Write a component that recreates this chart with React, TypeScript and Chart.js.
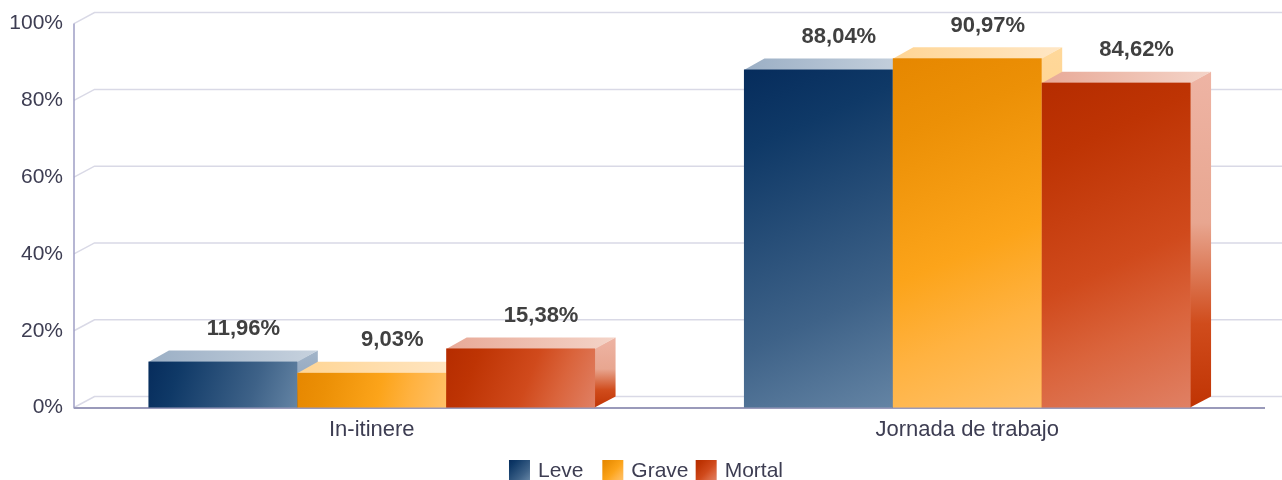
import { useEffect, useRef } from 'react';
import { Chart, registerables } from 'chart.js';

Chart.register(...registerables);

const categories = ['In-itinere', 'Jornada de trabajo'];
const seriesNames = ['Leve', 'Grave', 'Mortal'];
const leveValues = [11.96, 88.04];
const graveValues = [9.03, 90.97];
const mortalValues = [15.38, 84.62];
const yTickValues = [0, 20, 40, 60, 80, 100];

const DX = 20.5;
const DY = -11;
const FONT = '"Liberation Sans", Arial, Helvetica, sans-serif';
const TEXT_COLOR = '#3d3d52';
const LABEL_COLOR = '#404040';

type Stops = [number, string][];
interface Palette {
  front: Stops;
  top: [string, string];
  side: Stops;
}

const palettes: Palette[] = [
  {
    front: [[0, '#062c5c'], [0.2, '#0f3967'], [0.7, '#3e6288'], [1, '#6484a4']],
    top: ['#9bafc5', '#c7d2de'],
    side: [[0, '#a3b5c9'], [0.4, '#97abc2'], [0.75, '#3e6288'], [1, '#1a4070']],
  },
  {
    front: [[0, '#e68700'], [0.2, '#ec9006'], [0.55, '#fca41a'], [0.75, '#ffb240'], [1, '#ffc168']],
    top: ['#ffd594', '#ffe7c6'],
    side: [[0, '#ffd89a'], [0.4, '#ffd18a'], [0.75, '#f59a10'], [1, '#e88a00']],
  },
  {
    front: [[0, '#b52c00'], [0.2, '#be3404'], [0.55, '#d04a1c'], [0.75, '#da643c'], [1, '#e08064']],
    top: ['#e8a997', '#f4d4c8'],
    side: [[0, '#eeb4a4'], [0.45, '#e8a690'], [0.75, '#d04c1c'], [1, '#c03404']],
  },
];

function fmt(v: number) {
  return v.toFixed(2).replace('.', ',') + '%';
}

function addStops(g: CanvasGradient, stops: Stops) {
  stops.forEach(([o, c]) => g.addColorStop(o, c));
  return g;
}

const threeDPlugin = {
  id: 'threeD',
  beforeDatasetsDraw(chart: any) {
    const { ctx, chartArea } = chart;
    const yScale = chart.scales.y;
    const W = chart.width;
    ctx.save();
    ctx.lineWidth = 1.5;
    ctx.strokeStyle = '#d9d9e6';
    yTickValues.forEach((v) => {
      const y = yScale.getPixelForValue(v);
      ctx.beginPath();
      ctx.moveTo(chartArea.left, y);
      ctx.lineTo(chartArea.left + DX, y + DY);
      ctx.lineTo(W, y + DY);
      ctx.stroke();
    });
    // front y axis
    ctx.strokeStyle = '#9e9ec4';
    ctx.lineWidth = 1.5;
    ctx.beginPath();
    ctx.moveTo(chartArea.left, yScale.getPixelForValue(100));
    ctx.lineTo(chartArea.left, chartArea.bottom + 1);
    ctx.stroke();
    // front x axis
    ctx.strokeStyle = '#9a9aba';
    ctx.lineWidth = 2;
    ctx.beginPath();
    ctx.moveTo(chartArea.left, chartArea.bottom + 0.5);
    ctx.lineTo(chartArea.right, chartArea.bottom + 0.5);
    ctx.stroke();
    ctx.restore();
  },
  afterDatasetsDraw(chart: any) {
    const { ctx } = chart;
    const nCat = categories.length;
    const nSer = chart.data.datasets.length;
    ctx.save();
    for (let c = 0; c < nCat; c++) {
      for (let s = 0; s < nSer; s++) {
        const meta = chart.getDatasetMeta(s);
        const el = meta.data[c];
        if (!el) continue;
        const p = el.getProps(['x', 'y', 'base', 'width'], true);
        const l = p.x - p.width / 2;
        const r = p.x + p.width / 2;
        const t = p.y;
        const b = p.base;
        const pal = palettes[s];
        // side face
        const sg = ctx.createLinearGradient(0, t + DY, 0, b);
        addStops(sg, pal.side);
        ctx.fillStyle = sg;
        ctx.beginPath();
        ctx.moveTo(r - 0.5, t);
        ctx.lineTo(r + DX, t + DY);
        ctx.lineTo(r + DX, b + DY);
        ctx.lineTo(r - 0.5, b);
        ctx.closePath();
        ctx.fill();
        // top face
        const tg = ctx.createLinearGradient(l, 0, r + DX, 0);
        tg.addColorStop(0, pal.top[0]);
        tg.addColorStop(1, pal.top[1]);
        ctx.fillStyle = tg;
        ctx.beginPath();
        ctx.moveTo(l, t + 0.5);
        ctx.lineTo(l + DX, t + DY);
        ctx.lineTo(r + DX, t + DY);
        ctx.lineTo(r, t + 0.5);
        ctx.closePath();
        ctx.fill();
        // front face
        const fg = ctx.createLinearGradient(l, t, r, b);
        addStops(fg, pal.front);
        ctx.fillStyle = fg;
        ctx.fillRect(l, t, r - l, b - t);
      }
    }
    // value labels
    ctx.fillStyle = LABEL_COLOR;
    ctx.font = 'bold 22px ' + FONT;
    ctx.textAlign = 'center';
    ctx.textBaseline = 'middle';
    for (let s = 0; s < nSer; s++) {
      const meta = chart.getDatasetMeta(s);
      const vals = chart.data.datasets[s].data as number[];
      meta.data.forEach((el: any, i: number) => {
        const p = el.getProps(['x', 'y'], true);
        ctx.fillText(fmt(vals[i]), p.x + DX, p.y + DY - 21.5);
      });
    }
    ctx.restore();
  },
  afterDraw(chart: any) {
    // legend
    const { ctx } = chart;
    ctx.save();
    ctx.font = '21px ' + FONT;
    const boxW = 21;
    const boxH = 20;
    const gap = 7;
    const names = chart.data.datasets.map((d: any) => d.label as string);
    const widths = names.map((n: string) => boxW + gap + ctx.measureText(n).width);
    const colW = Math.max(...widths) + 7;
    const total = colW * (names.length - 1) + widths[widths.length - 1];
    let x = 645.5 - total / 2;
    const yMid = 470;
    names.forEach((n: string, i: number) => {
      const g = ctx.createLinearGradient(x, yMid - boxH / 2, x + boxW, yMid + boxH / 2);
      addStops(g, palettes[i].front);
      ctx.fillStyle = g;
      ctx.fillRect(x, yMid - boxH / 2, boxW, boxH);
      ctx.fillStyle = TEXT_COLOR;
      ctx.textAlign = 'left';
      ctx.textBaseline = 'middle';
      ctx.fillText(n, x + boxW + gap + 1, yMid + 1);
      x += colW;
    });
    ctx.restore();
  },
};

export default function App() {
  const ref = useRef<HTMLCanvasElement | null>(null);
  useEffect(() => {
    if (!ref.current) return;
    const seriesValues = [leveValues, graveValues, mortalValues];
    const chart = new Chart(ref.current, {
      type: 'bar',
      data: {
        labels: categories,
        datasets: seriesNames.map((name, i) => ({
          label: name,
          data: seriesValues[i],
          backgroundColor: 'rgba(0,0,0,0)',
          borderWidth: 0,
          categoryPercentage: 0.75,
          barPercentage: 1,
        })),
      },
      options: {
        responsive: false,
        animation: false,
        layout: { padding: { top: 23.5, right: 17, bottom: 30, left: 0 } },
        plugins: {
          legend: { display: false },
          tooltip: { enabled: false },
        },
        scales: {
          x: {
            grid: { display: false, drawTicks: false },
            border: { display: false },
            ticks: {
              padding: 9,
              color: TEXT_COLOR,
              font: { family: FONT, size: 22 },
            },
            afterFit: (s: any) => {
              s.height = 42.5;
            },
          },
          y: {
            min: 0,
            max: 100,
            grid: { display: false, drawTicks: false },
            border: { display: false },
            afterBuildTicks: (s: any) => {
              s.ticks = yTickValues.map((v) => ({ value: v }));
            },
            ticks: {
              padding: 11,
              color: TEXT_COLOR,
              font: { family: FONT, size: 21 },
              callback: (v: any) => v + '%',
            },
            afterFit: (s: any) => {
              s.width = 74;
            },
          },
        },
      },
      plugins: [threeDPlugin],
    });
    return () => chart.destroy();
  }, []);
  return (
    <div style={{ position: 'absolute', left: 0, top: 0, width: 1282, height: 480 }}>
      <canvas ref={ref} width={1282} height={480} style={{ display: 'block' }} />
    </div>
  );
}
